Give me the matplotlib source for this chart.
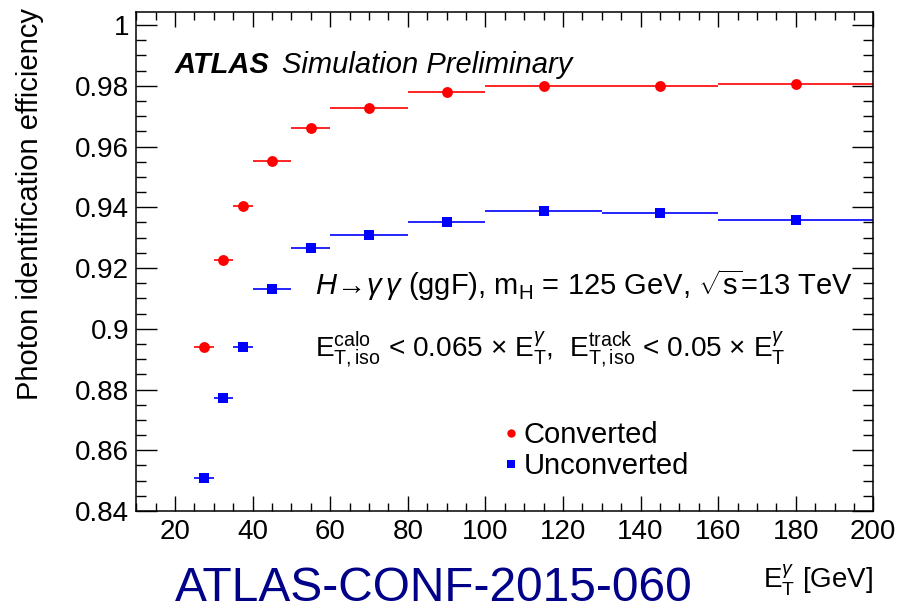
import numpy as np
import matplotlib
matplotlib.use("Agg")
import matplotlib.pyplot as plt
from matplotlib.ticker import MultipleLocator
from matplotlib.lines import Line2D

plt.rcParams['font.family'] = ['Liberation Sans', 'DejaVu Sans']
plt.rcParams['mathtext.fontset'] = 'custom'
plt.rcParams['mathtext.rm'] = 'Liberation Sans'
plt.rcParams['mathtext.it'] = 'Liberation Sans:italic'
plt.rcParams['mathtext.bf'] = 'Liberation Sans:bold'

# pT bins (GeV) and efficiencies
bin_lo = [25, 30, 35, 40, 50, 60, 80, 100, 130, 160]
bin_hi = [30, 35, 40, 50, 60, 80, 100, 130, 160, 200]
eff_conv = [0.8939, 0.9226, 0.9404, 0.9551, 0.9662, 0.9726, 0.9778, 0.9798, 0.9798, 0.9806]
eff_unconv = [0.8510, 0.8771, 0.8939, 0.9132, 0.9265, 0.9309, 0.9352, 0.9388, 0.9380, 0.9357]

W, H = 912, 611
def fx(x): return x / W
def fy(y): return 1 - y / H

fig = plt.figure(figsize=(W / 100, H / 100), dpi=100)
ax = fig.add_axes([fx(136.2), fy(511), fx(873.3 - 136.2), (511 - 11.7) / H])

lo = np.array(bin_lo, float)
hi = np.array(bin_hi, float)
xc = 0.5 * (lo + hi)
xe = 0.5 * (hi - lo)

ax.errorbar(xc, eff_conv, xerr=xe, fmt='o', color='#ff0000', ms=7.8,
            elinewidth=1.2, capsize=0, mew=0)
ax.errorbar(xc, eff_unconv, xerr=xe, fmt='s', color='#0000ff', ms=7.5,
            elinewidth=1.2, capsize=0, mew=0)

ax.set_xlim(10, 200)
ax.xaxis.set_major_locator(MultipleLocator(20))
ax.xaxis.set_minor_locator(MultipleLocator(5))
ax.yaxis.set_minor_locator(MultipleLocator(0.005))
ax.set_yticks(np.arange(0.84, 1.001, 0.02))
ax.set_yticklabels(['0.84', '0.86', '0.88', '0.9', '0.92', '0.94', '0.96', '0.98', '1'])
ax.set_ylim(0.84, 1.0044)

for s in ax.spines.values():
    s.set_linewidth(1.1)
ax.tick_params(axis='x', which='major', direction='in', top=True, length=10.5, width=1.0,
               labelsize=20, pad=6)
ax.tick_params(axis='x', which='minor', direction='in', top=True, length=5.5, width=1.0)
ax.tick_params(axis='y', which='major', direction='in', right=True, length=15, width=1.0,
               labelsize=20, pad=5)
ax.tick_params(axis='y', which='minor', direction='in', right=True, length=7, width=1.0)

# axis titles
fig.text(fx(30), fy(8), 'Photon identification efficiency', rotation=90,
         ha='center', va='top', fontsize=21)
fig.text(fx(873), fy(588), r'E$_\mathrm{T}^{\gamma}$ [GeV]', ha='right', va='baseline',
         fontsize=20)

# labels
fig.text(fx(175), fy(72.7), 'ATLAS', fontsize=21, fontweight='bold', style='italic',
         va='baseline')
fig.text(fx(282), fy(72.7), 'Simulation Preliminary', fontsize=21, style='italic',
         va='baseline')
fig.text(fx(315), fy(295),
         r'$H\!\rightarrow\!\gamma\,\gamma$ (ggF), m$_{\mathrm{H}}$ = 125 GeV, $\sqrt{\mathrm{s}}$=13 TeV',
         fontsize=21, va='baseline')
fig.text(fx(315), fy(356.7),
         r'E$_{\mathrm{T,iso}}^{\mathrm{calo}}$ < 0.065 $\times$ E$_{\mathrm{T}}^{\gamma}$,  '
         r'E$_{\mathrm{T,iso}}^{\mathrm{track}}$ < 0.05 $\times$ E$_{\mathrm{T}}^{\gamma}$',
         fontsize=20.2, va='baseline')
fig.text(fx(175), fy(601), 'ATLAS-CONF-2015-060', fontsize=34.5, color='#000088',
         va='baseline')

handles = [Line2D([], [], ls='none', marker='o', color='#ff0000', ms=6, mew=0),
           Line2D([], [], ls='none', marker='s', color='#0000ff', ms=6, mew=0)]
ax.legend(handles, ['Converted', 'Unconverted'], loc='upper left', frameon=False,
          fontsize=21, handlelength=0.4, handletextpad=0.25, labelspacing=0.1,
          borderaxespad=0, borderpad=0,
          bbox_to_anchor=(fx(505), fy(421)), bbox_transform=fig.transFigure)

fig.savefig('out.png', dpi=100)
